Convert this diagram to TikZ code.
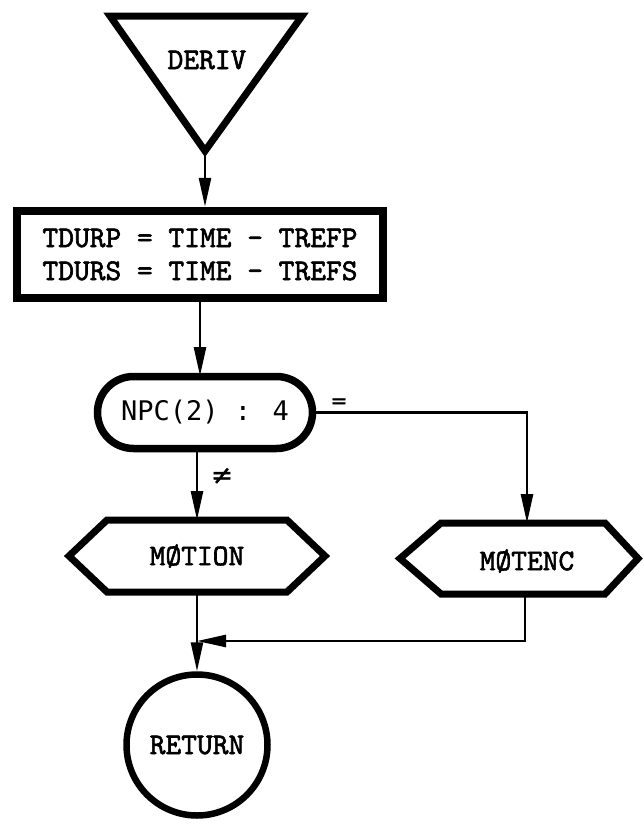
\documentclass[tikz,border=0pt]{standalone}
\usepackage{fontspec}
\usetikzlibrary{arrows.meta,shapes.misc}
\newfontfamily\tw{lmmono10-regular.otf}[FakeBold=2]
\newfontfamily\gothic{DejaVu Sans Mono}
\newfontfamily\symb{DejaVu Sans}[FakeBold=1.5]
\begin{document}
\begin{tikzpicture}[x=1pt,y=-1pt,
  conn/.style={line width=2.6pt},
  arr/.style={conn,-{Triangle[length=29pt,width=12pt]}},
  lbl/.style={font=\tw\fontsize{30}{33}\selectfont, inner sep=0pt},
  outline/.style={draw, line join=miter},
  hex/.style={outline, line width=7pt}]
\useasboundingbox (0,0) rectangle (643,825);

% entry terminal (inverted triangle)
\draw[outline, line width=7pt] (110,16) -- (302,16) -- (205,151) -- cycle;
\coordinate (apex) at (205,151);
\node[lbl] (deriv) at (207,60) {DERIV};

% process box
\node[lbl, draw, line width=8.5pt, minimum width=366pt, minimum height=87pt, align=center]
  (calc) at (200,254.5) {TDURP = TIME - TREFP\\TDURS = TIME - TREFS};

% decision
\node[draw, rounded rectangle, line width=7.5pt, minimum width=215pt, minimum height=72pt,
  inner sep=0pt, font=\gothic\fontsize{27}{30}\selectfont]
  (test) at (205,412.5) {NPC(2) : 4};

% subroutine calls
\node[lbl] (motion) at (197,556) {MØTION};
\draw[hex] (107,520) -- (287,520) -- (325,556) -- (287,592) -- (107,592) -- (69,556) -- cycle;
\coordinate (motionN) at (197,520);
\coordinate (motionS) at (197,592);

\node[lbl] (motenc) at (527,561) {MØTENC};
\draw[hex] (441,523) -- (605,523) -- (638,558.5) -- (605,594) -- (441,594) -- (400,558.5) -- cycle;
\coordinate (motencN) at (527,523);
\coordinate (motencS) at (525,594);

% exit terminal
\node[lbl, draw, circle, line width=6.5pt, minimum size=141pt] (ret) at (197,745) {RETURN};

% connectors
\coordinate (join) at (197,641);
\draw[arr] (apex) -- (apex |- calc.north);
\draw[arr] (calc.south -| 200,0) -- (200,376);
\draw[arr] (test.south -| motionN) -- (motionN);
\draw[arr] (test.east) -| (motencN);
\draw[arr] (motencS) |- (join);
\draw[arr] (motionS) -- (ret.north);

% branch labels
\node[font=\symb\fontsize{20}{22}\selectfont, inner sep=0pt] (eq) at (339,403) {=};
\node[font=\symb\fontsize{26}{28}\selectfont, inner sep=0pt] (ne) at (222,476) {≠};
\end{tikzpicture}
\end{document}
